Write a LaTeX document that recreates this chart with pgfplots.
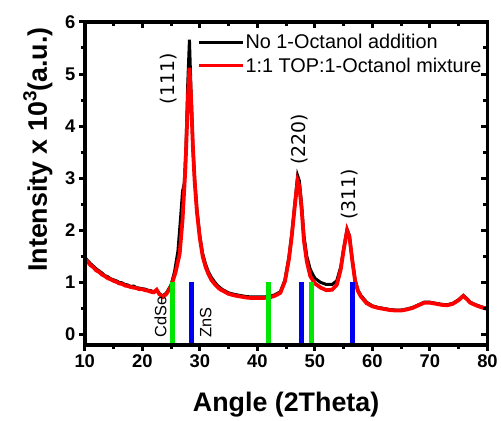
\documentclass[border=0pt]{standalone}
\usepackage{pgfplots}
\pgfplotsset{compat=1.18}
\usepackage{fontspec}
\setmainfont{Liberation Sans}
\newfontfamily\labfont{DejaVu Sans}

\definecolor{refgreen}{RGB}{0,230,0}
\definecolor{refblue}{RGB}{0,0,240}

% XRD pattern without 1-octanol
\pgfplotstableread{
x y
10 1.48
10.5 1.42
11 1.36
11.5 1.31
12 1.26
12.5 1.22
13 1.18
13.5 1.13
14 1.11
14.5 1.07
15 1.05
15.5 1.03
16 1.00
16.5 0.99
17 0.96
17.5 0.95
18 0.92
18.5 0.93
19 0.90
19.5 0.89
20 0.88
20.5 0.87
21 0.85
21.5 0.84
22 0.82
22.5 0.85
23 0.78
23.6 0.74
24.2 0.80
25 0.95
25.6 1.2
26.2 1.6
26.7 2.3
27.0 2.75
27.3 2.9
27.6 3.6
27.9 4.8
28.2 5.66
28.5 4.6
28.8 3.6
29.1 3.0
29.5 2.4
30.0 1.9
30.5 1.55
31 1.35
31.5 1.2
32 1.1
32.5 1.02
33 0.95
33.5 0.9
34 0.86
35 0.80
36 0.77
37 0.75
38 0.73
39 0.72
40 0.72
41 0.72
42 0.73
43 0.76
44 0.82
44.8 1.05
45.5 1.5
46.0 1.95
46.5 2.5
47.0 3.05
47.3 2.95
47.7 2.5
48.1 1.9
48.6 1.5
49.2 1.25
50 1.08
51 1.0
52 0.96
53 0.96
53.8 1.03
54.5 1.3
55.0 1.65
55.6 2.02
56.0 1.9
56.5 1.45
57.0 1.05
57.5 0.85
58 0.75
59 0.62
60 0.55
61 0.52
62 0.50
63 0.48
64 0.47
65 0.47
66 0.49
67 0.52
68 0.57
69 0.62
70 0.62
71 0.60
72 0.58
73 0.57
74 0.60
75 0.67
75.8 0.75
76.5 0.68
77 0.62
78 0.57
79 0.53
80 0.50
}\noOctanol

% XRD pattern with 1:1 TOP:1-octanol
\pgfplotstableread{
x y
10 1.45
10.5 1.40
11 1.33
11.5 1.29
12 1.23
12.5 1.20
13 1.15
13.5 1.12
14 1.08
14.5 1.06
15 1.03
15.5 1.01
16 0.98
16.5 0.97
17 0.94
17.5 0.93
18 0.91
18.5 0.90
19 0.89
19.5 0.87
20 0.87
20.5 0.85
21 0.84
21.5 0.82
22 0.81
22.5 0.86
23 0.77
23.6 0.72
24.2 0.78
25 0.92
25.8 1.2
26.5 1.55
27.0 2.2
27.5 3.2
28.0 4.7
28.2 5.12
28.5 4.5
28.8 3.6
29.1 2.95
29.5 2.35
30.0 1.85
30.5 1.5
31 1.3
31.5 1.16
32 1.05
32.5 0.98
33 0.92
33.5 0.87
34 0.84
35 0.78
36 0.75
37 0.73
38 0.71
39 0.70
40 0.70
41 0.70
42 0.71
43 0.74
44 0.80
44.8 1.02
45.5 1.45
46.0 1.9
46.5 2.45
47.0 2.95
47.3 2.85
47.7 2.4
48.1 1.8
48.6 1.4
49.2 1.12
50 0.98
51 0.90
52 0.85
53 0.86
53.8 0.95
54.5 1.25
55.0 1.62
55.6 2.0
56.0 1.88
56.5 1.42
57.0 1.02
57.5 0.83
58 0.73
59 0.60
60 0.54
61 0.51
62 0.49
63 0.47
64 0.46
65 0.46
66 0.48
67 0.51
68 0.56
69 0.61
70 0.61
71 0.59
72 0.57
73 0.56
74 0.59
75 0.66
75.8 0.74
76.5 0.67
77 0.61
78 0.56
79 0.52
80 0.49
}\withOctanol

\begin{document}
\begin{tikzpicture}
\pgfplotsset{
  frameopts/.style={
    scale only axis, width=404bp, height=324bp,
    xmin=10, xmax=80, ymin=-0.2, ymax=6,
    xtick={10,20,...,80}, ytick={0,1,...,6},
    minor x tick num=1, minor y tick num=1,
    axis line style={line width=3.6bp},
    major tick style={line width=3bp, black},
    minor tick style={line width=3bp, black},
    major tick length=6bp, minor tick length=4bp,
  }
}
\begin{axis}[frameopts, name=main,
  tick align=outside, xtick pos=bottom, ytick pos=left,
  /pgf/number format/assume math mode=true,
  tick label style={font=\fontsize{18.5}{18.5}\selectfont\bfseries},
  xlabel={Angle (2Theta)},
  ylabel={Intensity x 10\raisebox{0.75ex}{\fontsize{19}{19}\selectfont 3}(a.u.)},
  label style={font=\fontsize{27}{27}\selectfont\bfseries},
  xlabel style={at={(axis description cs:0.5,-0.207)}, anchor=base},
  ylabel style={at={(axis description cs:-0.094,0.605)}, anchor=base},
  legend image code/.code={\draw[#1, line width=3bp] (0bp,0bp) -- (44bp,0bp);},
  legend style={at={(axis cs:29.6,5.79)}, anchor=north west, draw=none, fill=none,
    font=\fontsize{20}{22}\selectfont, row sep=6bp, inner sep=0pt,
    nodes={inner sep=1bp, xshift=4bp}},
  legend cell align=left,
  clip=false,
]
\addplot [black, line width=3bp] table {\noOctanol};
\addlegendentry{No 1-Octanol addition}
\addplot [red, line width=3.8bp] table {\withOctanol};
\addlegendentry{1:1 TOP:1-Octanol mixture}

% reference reflections: CdSe (green) and ZnS (blue)
\addplot [refgreen, line width=5bp, forget plot] coordinates {(25.3,-0.2) (25.3,1)};
\addplot [refgreen, line width=5bp, forget plot] coordinates {(41.9,-0.2) (41.9,1)};
\addplot [refgreen, line width=5bp, forget plot] coordinates {(49.4,-0.2) (49.4,1)};
\addplot [refblue, line width=5bp, forget plot] coordinates {(28.6,-0.2) (28.6,1)};
\addplot [refblue, line width=5bp, forget plot] coordinates {(47.7,-0.2) (47.7,1)};
\addplot [refblue, line width=5bp, forget plot] coordinates {(56.6,-0.2) (56.6,1)};

\node [rotate=90, anchor=base west, font=\fontsize{16.5}{16.5}\selectfont] at (axis cs:24.2,-0.13) {CdSe};
\node [rotate=90, anchor=base west, font=\fontsize{16.5}{16.5}\selectfont] at (axis cs:32.0,-0.13) {ZnS};

\node [rotate=90, anchor=center, font=\labfont\fontsize{19}{19}\selectfont] at (axis cs:24.55,4.91) {(111)};
\node [rotate=90, anchor=center, font=\labfont\fontsize{19}{19}\selectfont] at (axis cs:47.4,3.75) {(220)};
\node [rotate=90, anchor=center, font=\labfont\fontsize{19}{19}\selectfont] at (axis cs:56.1,2.69) {(311)};
\end{axis}
% inward ticks on the top and right edges
\begin{axis}[frameopts, at={(main.south west)}, anchor=south west,
  tick align=inside, xtick pos=top, ytick pos=right,
  xticklabels={}, yticklabels={}]
\end{axis}
\path (main.south west) ++(-85bp,-72bp) rectangle ++(501bp,418bp);
\end{tikzpicture}
\end{document}
